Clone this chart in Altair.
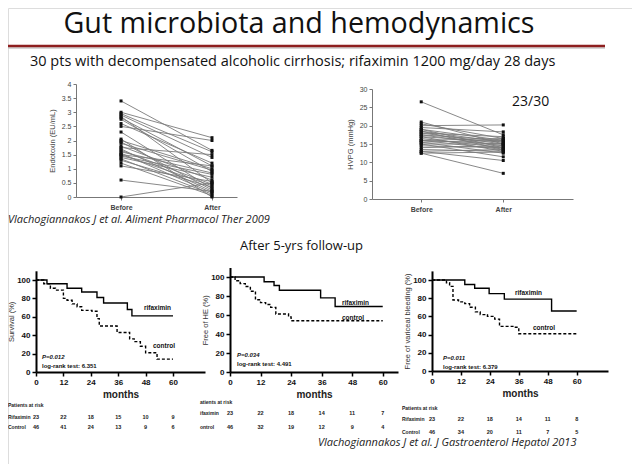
import altair as alt
import pandas as pd

SANS = "Liberation Sans"
SLIDE = "Open Sans"

# ---------------- texts ----------------
title_text = "Gut microbiota and hemodynamics"
subtitle_text = "30 pts with decompensated alcoholic cirrhosis; rifaximin 1200 mg/day 28 days"
cite1 = "Vlachogiannakos J et al. Aliment Pharmacol Ther 2009"
followup = "After 5-yrs follow-up"
cite2 = "Vlachogiannakos J et al. J Gastroenterol Hepatol 2013"
ratio_text = "23/30"

# ---------------- top-left: endotoxin ----------------
endo_before = [3.4, 3.0, 2.95, 2.9, 2.85, 2.8, 2.75, 2.6, 2.5, 2.3, 2.0, 1.95, 1.9, 1.8, 1.75,
               1.7, 1.65, 1.6, 1.55, 1.5, 1.5, 1.45, 1.4, 1.35, 1.3, 1.2, 1.1, 0.6, 0.0, 2.05]
endo_after = [1.65, 2.1, 1.6, 1.4, 0.5, 1.1, 0.9, 1.2, 2.0, 0.3, 1.0, 0.25, 0.95, 0.6, 1.5,
              0.2, 0.45, 0.85, 0.15, 1.1, 0.4, 0.8, 0.7, 0.1, 0.35, 0.05, 0.55, 0.2, 0.5, 0.0]
endo_ticks = [0, 0.5, 1, 1.5, 2, 2.5, 3, 3.5, 4]

# ---------------- top-right: HVPG ----------------
hvpg_before = [26.5, 21, 20.5, 20, 19.5, 19, 19, 18.5, 18.5, 18, 18, 17.5, 17.5, 17, 17,
               16.5, 16, 16, 16, 15.5, 15.5, 15, 15, 14.5, 14, 13.5, 13, 13, 12.5, 12.5]
hvpg_after = [17.5, 15, 16.5, 20.2, 18.3, 14, 16, 15.5, 13.5, 17, 15, 14.5, 16, 13, 15.5,
              14, 16.5, 13.5, 15, 16, 12.5, 15, 11.5, 14, 14.5, 13, 13.5, 10.5, 12.8, 7]
hvpg_ticks = [0, 5, 10, 15, 20, 25, 30]

# ---------------- Kaplan-Meier curves ----------------
months = [0, 12, 24, 36, 48, 60]
pct_ticks = [0, 20, 40, 60, 80, 100]

surv_rif_t = [0, 4.8, 13.6, 20, 26.7, 29.6, 40, 42, 60]
surv_rif_s = [100, 96, 91, 87, 81, 75, 68, 61, 61]
surv_ctl_t = [0, 3.4, 6.3, 8.5, 12, 13.6, 15.8, 18, 20, 24.5, 26.7, 27.7, 35.5, 41, 43, 45.7, 48, 53, 60]
surv_ctl_s = [100, 96, 91, 89, 80, 78, 74, 71, 67, 66, 58, 50, 43, 36, 33, 28, 21, 14, 14]

he_rif_t = [0, 13.4, 17.3, 19.4, 35.6, 41.3, 60]
he_rif_s = [100, 95, 91, 86, 78, 69, 69]
he_ctl_t = [0, 2, 4, 6, 8, 10, 12, 14, 16, 18, 23, 24, 60]
he_ctl_s = [100, 96, 93, 90, 85, 76, 73, 71, 68, 61, 58, 54, 54]

vb_rif_t = [0, 13.6, 17.7, 23.7, 30, 49.6, 60]
vb_rif_s = [100, 95, 91, 85, 79, 66, 66]
vb_ctl_t = [0, 6, 7.3, 8.7, 11, 13.6, 15.6, 18, 20, 23, 26, 28, 34, 36, 60]
vb_ctl_s = [100, 97, 93, 78, 76, 74, 70, 65, 62, 60, 57, 49, 48, 41, 41]

# patients at risk
surv_risk_rif = [23, 22, 18, 15, 10, 9]
surv_risk_ctl = [46, 41, 24, 13, 9, 6]
he_risk_rif = [23, 22, 18, 14, 11, 7]
he_risk_ctl = [46, 32, 19, 12, 9, 4]
vb_risk_rif = [23, 22, 18, 14, 11, 8]
vb_risk_ctl = [46, 34, 20, 11, 7, 5]

W, H = 624, 456
ONE = pd.DataFrame({"a": [0]})


def txt(s, x, y, size, font=SLIDE, style="normal", weight="normal", color="#111",
        align="left", baseline="middle", angle=0):
    return alt.Chart(ONE).mark_text(
        font=font, fontSize=size, fontStyle=style, fontWeight=weight, color=color,
        align=align, baseline=baseline, angle=angle
    ).encode(x=alt.value(x), y=alt.value(y), text=alt.value(s))


def scale(domain, rng):
    return alt.Scale(domain=domain, range=rng, nice=False, zero=False)


layers = []

# ---------------- header ----------------
layers += [
    txt(title_text, 291, 25, 28.7, align="center", baseline="alphabetic"),
    alt.Chart(ONE).mark_rule(color="#c9c9c9", strokeWidth=1.5).encode(
        x=alt.value(0), x2=alt.value(597), y=alt.value(40)),
    alt.Chart(ONE).mark_rule(color="#8e1f1f", strokeWidth=2.5).encode(
        x=alt.value(0), x2=alt.value(597), y=alt.value(38)),
    txt(subtitle_text, 22, 54, 14.5),
]


# ---------------- paired before/after plots ----------------
def paired(before, after, xdom, xr, ymax, yr, yticks, ytitle):
    n = len(before)
    df = pd.DataFrame({
        "id": list(range(n)) * 2,
        "t": [0] * n + [1] * n,
        "v": list(before) + list(after),
    })
    xs = scale(xdom, xr)
    ys = scale([0, ymax], yr)
    common = dict(grid=False, domainColor="#777", tickColor="#777", labelColor="#444",
                  labelFontSize=7, labelFont=SANS, tickSize=3, labelFlush=False,
                  labelOverlap=False)
    xax = alt.Axis(values=[0, 1], labelExpr="datum.value == 0 ? 'Before' : 'After'",
                   title=None, orient="bottom", offset=yr[0] - H, labelPadding=3,
                   labelFontWeight="bold", **common)
    yax = alt.Axis(values=yticks, format="~g", title=ytitle, orient="left",
                   offset=-xr[0], labelPadding=2, titleFont=SANS, titleFontSize=7.5,
                   titleFontWeight="normal", titleColor="#444", titlePadding=5, **common)
    lines = alt.Chart(df).mark_line(color="#7a7a7a", strokeWidth=0.9).encode(
        x=alt.X("t:Q", scale=xs, axis=xax), y=alt.Y("v:Q", scale=ys, axis=yax),
        detail="id:N")
    pts = alt.Chart(df).mark_square(size=9, color="#111", opacity=1).encode(
        x=alt.X("t:Q", scale=xs, axis=None), y=alt.Y("v:Q", scale=ys, axis=None))
    return [lines, pts]


layers += paired(endo_before, endo_after, [-0.495, 1.275], [68, 229], 4, [189, 76],
                 endo_ticks, "Endotoxin (EU/mL)")
layers += paired(hvpg_before, hvpg_after, [-0.6, 1.85], [364, 565], 30, [191, 81],
                 hvpg_ticks, "HVPG (mmHg)")
layers += [
    txt(ratio_text, 504, 94, 14),
    txt(cite1, 0, 212, 11, style="italic", color="#222"),
    txt(followup, 232, 238, 13),
    txt(cite2, 310, 435, 11, style="italic", color="#222"),
]


# ---------------- KM panels ----------------
def km(xdom, xr, yr, rt, rs, ct, cs, ytitle, lab_rif, lab_ctl, p_xy, ptxt, lrtxt,
       risk_r, risk_c, risk_hdr, risk_names, risk_y, lab_x):
    xs = scale(xdom, xr)
    ys = scale([0, 110], yr)
    common = dict(grid=False, domainColor="black", domainWidth=2, tickColor="black",
                  tickWidth=1.5, tickSize=4, labelFont=SANS, labelFontSize=8,
                  labelFontWeight="bold", labelColor="#111", labelPadding=2,
                  labelFlush=False, labelOverlap=False)
    xax = alt.Axis(values=months, title="months", orient="bottom", offset=yr[0] - H,
                   titleFont=SANS, titleFontSize=10, titleFontWeight="bold",
                   titleColor="#222", titlePadding=3, **common)
    yax = alt.Axis(values=pct_ticks, title=ytitle, orient="left", offset=-xr[0],
                   titleFont=SANS, titleFontSize=7.5, titleFontWeight="normal",
                   titleColor="#333", titlePadding=1, **common)
    out = [
        alt.Chart(pd.DataFrame({"t": rt, "s": rs})).mark_line(
            interpolate="step-after", color="black", strokeWidth=1.4
        ).encode(x=alt.X("t:Q", scale=xs, axis=xax), y=alt.Y("s:Q", scale=ys, axis=yax)),
        alt.Chart(pd.DataFrame({"t": ct, "s": cs})).mark_line(
            interpolate="step-after", color="black", strokeWidth=1.4, strokeDash=[3, 2]
        ).encode(x=alt.X("t:Q", scale=xs, axis=None), y=alt.Y("s:Q", scale=ys, axis=None)),
        txt("rifaximin", lab_rif[0], lab_rif[1], 6.5, font=SANS, weight="bold"),
        txt("control", lab_ctl[0], lab_ctl[1], 6.5, font=SANS, weight="bold"),
        txt(ptxt, p_xy[0], p_xy[1], 6, font=SANS, weight="bold", style="italic"),
        txt(lrtxt, p_xy[0], p_xy[1] + 9, 6, font=SANS, weight="bold"),
    ]
    risk_df = pd.DataFrame({"t": months, "r": [str(v) for v in risk_r],
                            "c": [str(v) for v in risk_c]})
    for field, yy in (("r", risk_y[1]), ("c", risk_y[2])):
        out.append(alt.Chart(risk_df).mark_text(
            font=SANS, fontSize=5.5, fontWeight="bold", color="#222", baseline="middle"
        ).encode(x=alt.X("t:Q", scale=xs, axis=None), y=alt.value(yy), text=f"{field}:N"))
    out.append(txt(risk_hdr, lab_x, risk_y[0], 5, font=SANS, weight="bold", color="#222"))
    out.append(txt(risk_names[0], lab_x, risk_y[1], 5, font=SANS, weight="bold", color="#222"))
    out.append(txt(risk_names[1], lab_x, risk_y[2], 5, font=SANS, weight="bold", color="#222"))
    return out


layers += km([0, 74], [28, 197], [364, 262.8], surv_rif_t, surv_rif_s, surv_ctl_t, surv_ctl_s,
             "Survival (%)", (136, 300), (145, 338), (34, 349), "P=0.012",
             "log-rank test: 6.351", surv_risk_rif, surv_risk_ctl, "Patients at risk",
             ("Rifaximin", "Control"), (397, 409, 419), 0)
layers += km([0, 66], [222, 390], [364, 259.5], he_rif_t, he_rif_s, he_ctl_t, he_ctl_s,
             "Free of HE (%)", (334, 295), (334, 310), (229, 347), "P=0.034",
             "log-rank test: 4.491", he_risk_rif, he_risk_ctl, "atients at risk",
             ("ifaximin", "ontrol"), (394, 405, 419), 192)
layers += km([0, 73], [424, 600], [363, 262.9], vb_rif_t, vb_rif_s, vb_ctl_t, vb_ctl_s,
             "Free of variceal bleeding (%)", (507, 285), (525, 320), (435, 350), "P=0.011",
             "log-rank test: 6.379", vb_risk_rif, vb_risk_ctl, "Patients at risk",
             ("Rifaximin", "Control"), (400, 411, 424), 394)

chart = alt.layer(*layers).resolve_scale(x="independent", y="independent").properties(
    width=W, height=H, padding=0, background="white",
    autosize=alt.AutoSizeParams(type="none")
).configure_view(strokeWidth=0).configure(font=SANS)

chart.save("out.html", embed_options={"renderer": "svg", "actions": False})
